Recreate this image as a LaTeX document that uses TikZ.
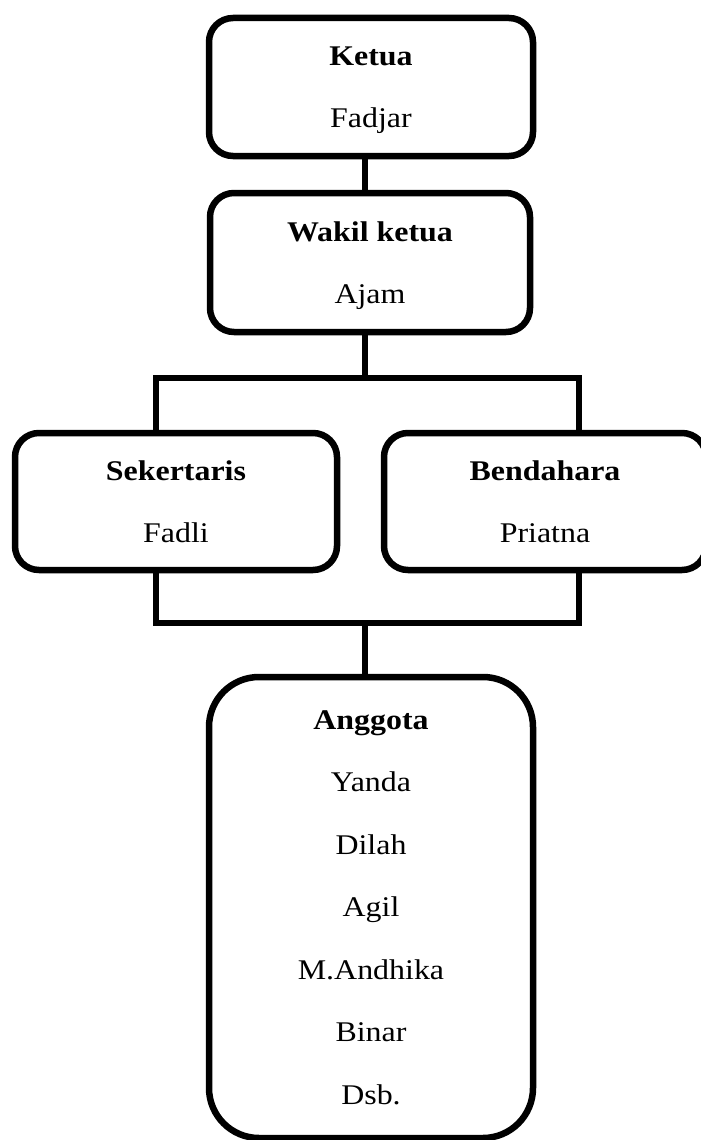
\documentclass[tikz,border=0pt]{standalone}
\usepackage{fontspec}
\setmainfont[FakeStretch=1.12]{Liberation Serif}

\tikzset{
  box/.style={draw, line width=6.5pt, rounded corners=24pt, inner sep=0pt,
    align=center, text depth=0pt, font=\fontsize{28.5}{62.5}\selectfont},
  link/.style={line width=6.5pt}
}

\begin{document}
\begin{tikzpicture}[x=1pt,y=-1pt]
\useasboundingbox (0,0) rectangle (701,1140);
\node[box, minimum width=324pt, minimum height=138pt] (ketua) at (371,87) {\textbf{Ketua}\\Fadjar};
\node[box, minimum width=320pt, minimum height=139pt] (wakil) at (370,262.5) {\textbf{Wakil ketua}\\Ajam};
\node[box, minimum width=322pt, minimum height=137pt] (sekertaris) at (176,501.5) {\textbf{Sekertaris}\\Fadli};
\node[box, minimum width=322pt, minimum height=137pt] (bendahara) at (545,501.5) {\textbf{Bendahara}\\Priatna};
\node[box, rounded corners=50pt, text depth=-7pt, minimum width=324pt, minimum height=461pt] (anggota) at (371,907.5)
  {\textbf{Anggota}\\Yanda\\Dilah\\Agil\\M.Andhika\\Binar\\Dsb.};
\coordinate (split) at (365,378);
\coordinate (lsplit) at (156,378);
\coordinate (rsplit) at (579,378);
\coordinate (join) at (365,623);
\coordinate (ljoin) at (156,623);
\coordinate (rjoin) at (579,623);
\draw[link] (ketua.south -| split) -- (wakil.north -| split);
\draw[link] (wakil.south -| split) -- (split);
\draw[link] (sekertaris.north -| lsplit) -- (lsplit) -- (rsplit) -- (bendahara.north -| rsplit);
\draw[link] (sekertaris.south -| ljoin) -- (ljoin) -- (rjoin) -- (bendahara.south -| rjoin);
\draw[link] (join) -- (anggota.north -| join);
\end{tikzpicture}
\end{document}
